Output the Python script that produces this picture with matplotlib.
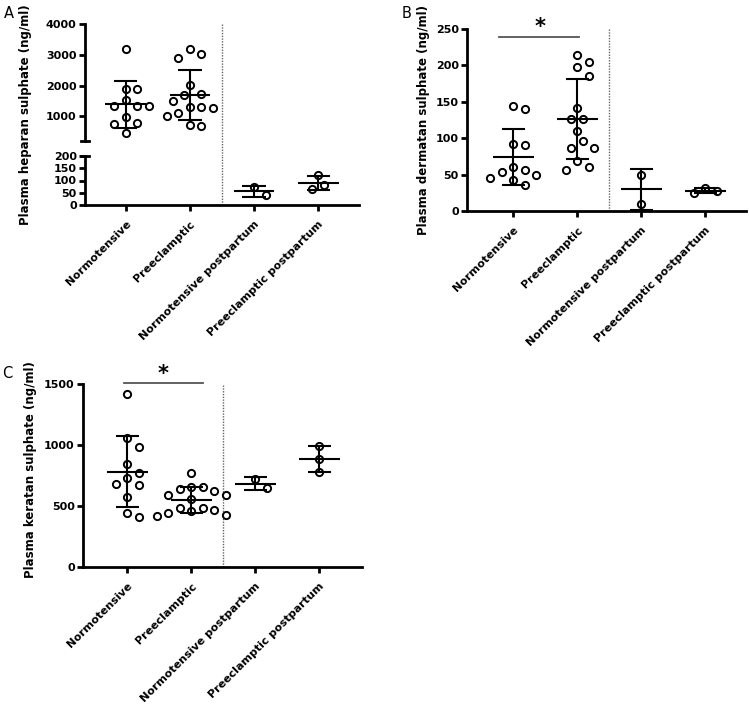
import numpy as np
import matplotlib
matplotlib.use("Agg")
import matplotlib.pyplot as plt

plt.rcParams["font.family"] = ["DejaVu Sans"]

groups = ["Normotensive", "Preeclamptic", "Normotensive postpartum", "Preeclamptic postpartum"]

# heparan sulphate (ng/ml)
hs_points = [
    [3200, 1900, 1900, 1520, 1330, 1350, 1330, 980, 770, 760, 460],
    [3200, 3020, 2900, 2010, 1730, 1680, 1500, 1300, 1300, 1280, 1120, 1000, 730, 690],
    [72, 40],
    [124, 83, 65],
]
hs_mean = [1390, 1700, 56, 91]
hs_sd = [760, 820, 22, 29]

# dermatan sulphate (ng/ml)
ds_points = [
    [144, 140, 92, 90, 60, 56, 53, 50, 45, 43, 36],
    [214, 204, 198, 185, 142, 127, 127, 110, 96, 87, 87, 68, 60, 56],
    [50, 9],
    [32, 27, 25],
]
ds_mean = [74, 126, 30, 28]
ds_sd = [38, 55, 28, 3]

# keratan sulphate (ng/ml)
ks_points = [
    [1416, 1060, 985, 844, 773, 727, 680, 670, 576, 445, 407],
    [773, 655, 655, 640, 625, 590, 590, 560, 480, 480, 470, 455, 440, 430, 420],
    [719, 645],
    [992, 885, 776],
]
ks_mean = [781, 548, 683, 884]
ks_sd = [290, 105, 52, 108]

W, H = 749, 708
fig = plt.figure(figsize=(W / 100, H / 100), dpi=100)

LW = 1.5
MS = 5.2


def add_axes_px(left, right, top, bottom):
    return fig.add_axes([left / W, 1 - bottom / H, (right - left) / W, (bottom - top) / H])


def style_axis(ax, show_x=True):
    for s in ["top", "right"]:
        ax.spines[s].set_visible(False)
    for s in ["left", "bottom"]:
        ax.spines[s].set_linewidth(2.0)
    ax.tick_params(width=2.0, length=4.5, labelsize=8)
    ax.tick_params(axis="y", pad=1.5)
    for lab in ax.get_yticklabels():
        lab.set_fontweight("bold")
    if show_x:
        ax.set_xticks(range(len(groups)))
        ax.set_xticklabels(groups, rotation=45, ha="right", va="top",
                           rotation_mode="anchor", fontweight="bold", fontsize=8)
        ax.tick_params(axis="x", pad=5.5)
    else:
        ax.spines["bottom"].set_visible(False)
        ax.set_xticks([])


def swarm_offsets(ax, values, d_px=11.5):
    tr = ax.transData.transform
    ux = tr((1, 0))[0] - tr((0, 0))[0]
    placed = []
    offs = []
    cands = [0.0] + [s * j * d_px / 2 for j in range(1, 30) for s in (1, -1)]
    for v in values:
        y = tr((0, v))[1]
        for c in cands:
            if all((c - px) ** 2 + (y - py) ** 2 >= d_px ** 2 for px, py in placed):
                break
        placed.append((c, y))
        offs.append(c / ux)
    return np.array(offs)


def draw_group(ax, i, values):
    xs = i + swarm_offsets(ax, values)
    ax.plot(xs, values, "o", ms=MS, mfc="none", mec="black", mew=1.4,
            clip_on=False, zorder=3)


def draw_summary(ax, i, mean, sd):
    ax.hlines(mean, i - 0.32, i + 0.32, color="black", lw=LW, clip_on=False)
    ax.hlines([mean - sd, mean + sd], i - 0.18, i + 0.18, color="black", lw=LW, clip_on=False)
    ax.vlines(i, mean - sd, mean + sd, color="black", lw=LW, clip_on=False)


def sig_bar(ax, x0, x1, y, xstar, off):
    ax.plot([x0, x1], [y, y], color="#555555", lw=1.3, clip_on=False)
    ax.annotate("*", xy=(xstar, y), xytext=(0, off), textcoords="offset points",
                ha="center", va="baseline", fontsize=15, fontweight="bold",
                annotation_clip=False)


# ---- Panel A (broken y axis) ----
axA_top = add_axes_px(85, 359, 24, 141)
axA_bot = add_axes_px(85, 359, 156, 205)
for ax in (axA_top, axA_bot):
    ax.set_xlim(-0.64, 3.64)
axA_top.set_ylim(200, 4000)
axA_top.set_yticks([1000, 2000, 3000, 4000])
axA_bot.set_ylim(0, 200)
axA_bot.set_yticks([0, 50, 100, 150, 200])
style_axis(axA_top, show_x=False)
style_axis(axA_bot)
# break caps
axA_top.plot([-0.64 - 0.07, -0.64 + 0.06], [200, 200], color="black", lw=2.0, clip_on=False)
axA_bot.plot([-0.64 - 0.07, -0.64 + 0.06], [200, 200], color="black", lw=2.0, clip_on=False)

for i, (vals, m, s) in enumerate(zip(hs_points, hs_mean, hs_sd)):
    ax = axA_top if m >= 200 else axA_bot
    draw_group(ax, i, vals)
    draw_summary(ax, i, m, s)

gap = (156 - 141) / (141 - 24)
axA_top.axvline(1.5, ymin=-gap, ymax=1, color="#666666", lw=1.0, ls=(0, (1, 1)), clip_on=False)
axA_bot.axvline(1.5, ymin=0, ymax=1, color="#666666", lw=1.0, ls=(0, (1, 1)))

# ---- Panel B ----
axB = add_axes_px(467, 746, 29, 211)
axB.set_xlim(-0.72, 3.64)
axB.set_ylim(0, 250)
axB.set_yticks([0, 50, 100, 150, 200, 250])
style_axis(axB)
for i, (vals, m, s) in enumerate(zip(ds_points, ds_mean, ds_sd)):
    draw_group(axB, i, vals)
    draw_summary(axB, i, m, s)
axB.axvline(1.5, color="#666666", lw=1.0, ls=(0, (1, 1)))
sig_bar(axB, -0.22, 1.03, 239, 0.42, 2.6)

# ---- Panel C ----
axC = add_axes_px(83, 362, 384, 567)
axC.set_xlim(-0.69, 3.67)
axC.set_ylim(0, 1500)
axC.set_yticks([0, 500, 1000, 1500])
style_axis(axC)
for i, (vals, m, s) in enumerate(zip(ks_points, ks_mean, ks_sd)):
    draw_group(axC, i, vals)
    draw_summary(axC, i, m, s)
axC.axvline(1.5, color="#666666", lw=1.0, ls=(0, (1, 1)))
sig_bar(axC, -0.05, 1.19, 1511, 0.56, 2.0)

# ---- labels ----
def ftext(x, y, s, **kw):
    fig.text(x / W, 1 - y / H, s, **kw)

ftext(26, 115, "Plasma heparan sulphate (ng/ml)", rotation=90, ha="center", va="center",
      fontsize=8.5, fontweight="bold")
ftext(423, 120, "Plasma dermatan sulphate (ng/ml)", rotation=90, ha="center", va="center",
      fontsize=8.5, fontweight="bold")
ftext(31, 470, "Plasma keratan sulphate (ng/ml)", rotation=90, ha="center", va="center",
      fontsize=8.5, fontweight="bold")

ftext(9, 13, "A", ha="center", va="center", fontsize=10.5)
ftext(407, 13, "B", ha="center", va="center", fontsize=10.5)
ftext(7, 373, "C", ha="center", va="center", fontsize=10.5)

fig.savefig("out.png", dpi=100)
